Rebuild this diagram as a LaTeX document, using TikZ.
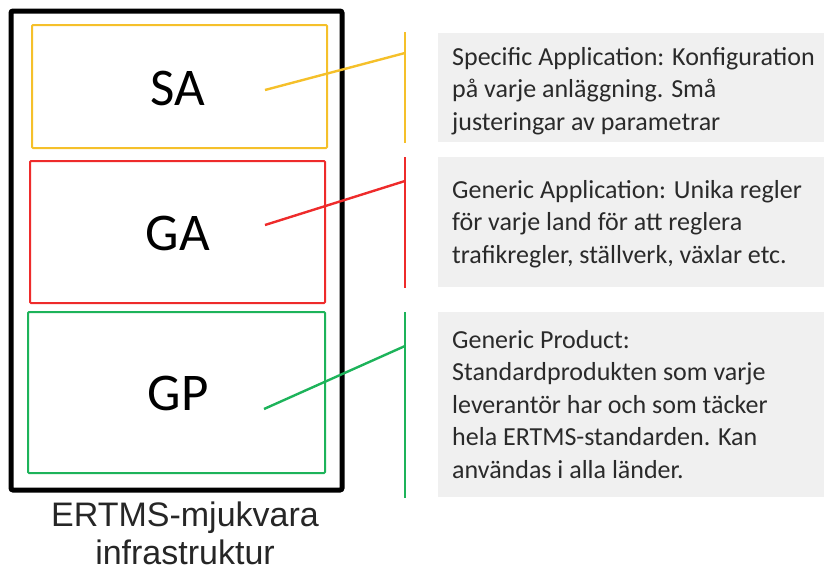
\documentclass[tikz,border=0pt]{standalone}
\usepackage{fontspec}
\setmainfont{Carlito}
\newfontfamily\arialf{Liberation Sans}
\definecolor{cyel}{HTML}{F5C02A}
\definecolor{cred}{HTML}{EE2B2B}
\definecolor{cgrn}{HTML}{1DB35A}
\definecolor{cbox}{HTML}{F0F0F0}
\definecolor{ctxt}{HTML}{2A2A2A}
\tikzset{
  layerbox/.style={draw, line width=2pt, rounded corners=1pt, inner sep=0pt},
  layerlabel/.style={font=\fontsize{53}{55}\selectfont, text=black},
  conn/.style={line width=2.4pt},
  descbox/.style={fill=cbox, draw=none},
  desctext/.style={anchor=base west, align=left, inner sep=0pt, text=ctxt,
    font=\fontsize{26}{32.5}\selectfont},
}
\begin{document}
\begin{tikzpicture}[x=1pt,y=-1pt]
\useasboundingbox (0,0) rectangle (824,570);
% outer frame
\node[draw, line width=5pt, rounded corners=2pt, minimum width=331pt, minimum height=479pt, inner sep=0pt] (frame) at (176.5,250.5) {};
% layer boxes
\node[layerbox, draw=cyel, minimum width=295pt, minimum height=123pt] (sa) at (179.5,86.5) {};
\node[layerbox, draw=cred, minimum width=295pt, minimum height=142pt] (ga) at (177.5,232) {};
\node[layerbox, draw=cgrn, minimum width=297pt, minimum height=161pt] (gp) at (176.5,392.5) {};
\node[layerlabel] (salbl) at (178,88) {SA};
\node[layerlabel] (galbl) at (178,233) {GA};
\node[layerlabel] (gplbl) at (178,393) {GP};
% description boxes
\fill[descbox] (438,33) rectangle (824,142);
\fill[descbox] (438,157) rectangle (824,287);
\fill[descbox] (438,312) rectangle (824,497);
\node[desctext] (satext) at (452,130) {Specific Application: Konfiguration\\på varje anläggning. Små\\justeringar av parametrar};
\node[desctext] (gatext) at (452,263) {Generic Application: Unika regler\\för varje land för att reglera\\trafikregler, ställverk, växlar etc.};
\node[desctext] (gptext) at (452,478) {Generic Product:\\Standardprodukten som varje\\leverantör har och som täcker\\hela ERTMS-standarden. Kan\\användas i alla länder.};
% brackets
\coordinate (ytop) at (405,32); \coordinate (ybot) at (405,143); \coordinate (yj) at (405,53);
\coordinate (rtop) at (405,157); \coordinate (rbot) at (405,288); \coordinate (rj) at (405,181);
\coordinate (gtop) at (405,312); \coordinate (gbot) at (405,498); \coordinate (gj) at (405,346);
\coordinate (sain) at (265,90);
\coordinate (gain) at (265,225);
\coordinate (gpin) at (264,409);
\draw[conn, cyel] (ytop) -- (ybot);
\draw[conn, cyel] (sain) -- (yj);
\draw[conn, cred] (rtop) -- (rbot);
\draw[conn, cred] (gain) -- (rj);
\draw[conn, cgrn] (gtop) -- (gbot);
\draw[conn, cgrn] (gpin) -- (gj);
% caption
\node[font=\arialf\fontsize{34}{38}\selectfont, align=center, text=black!85] (cap) at (185,533) {ERTMS-mjukvara\\infrastruktur};
\end{tikzpicture}
\end{document}
